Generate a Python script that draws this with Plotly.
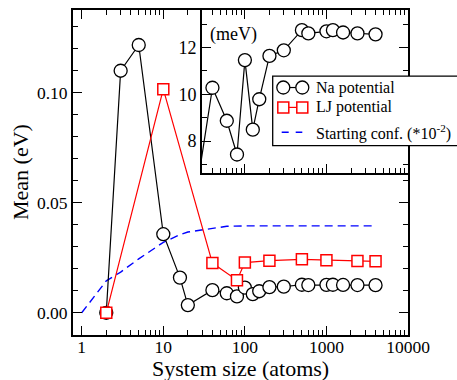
import plotly.graph_objects as go

# ---------------- data ----------------
na_size = [2, 3, 5, 10, 16, 20, 40, 60, 80, 100, 125, 150, 200, 300, 500, 600,
           1000, 1200, 1600, 2400, 4000]
na_mean = [0.0, 0.110, 0.1217, 0.0357, 0.0160, 0.0035, 0.01028, 0.00887, 0.00743,
           0.01146, 0.00849, 0.00979, 0.01164, 0.01188, 0.01274, 0.01260,
           0.01269, 0.01274, 0.01264, 0.01260, 0.01256]

lj_size = [2, 10, 40, 80, 100, 200, 500, 1000, 2400, 4000]
lj_mean = [0.0, 0.1016, 0.0226, 0.0148, 0.0228, 0.0237, 0.0243, 0.0239, 0.0235, 0.0234]

start_size = [1, 2, 3, 5, 10, 16, 20, 40, 60, 100, 200, 500, 1000, 4000]
start_mean = [0.0, 0.0145, 0.0185, 0.0245, 0.0320, 0.0355, 0.0367, 0.0385, 0.0393,
              0.0395, 0.0395, 0.0395, 0.0395, 0.0395]

x_major = [1, 10, 100, 1000, 10000]
x_major_text = ["1", "10", "100", "1000", "10000"]
y_major = [0.0, 0.05, 0.10]
y_major_text = ["0.00", "0.05", "0.10"]
inset_y_major = [8, 10, 12]
inset_y_text = ["8", "10", "12"]

legend_names = ["Na potential", "LJ potential", "Starting conf. (*10<sup>-2</sup>)"]
inset_unit = "(meV)"
x_title = "System size (atoms)"
y_title = "Mean (eV)"

# ---------------- layout geometry ----------------
W, H = 457, 380
L, R, T, B = 73, 408, 8, 335
FONT = "Liberation Serif"


def fx(px):
    return (px - L) / (R - L)


def fy(py):
    return (B - py) / (B - T)


x_minor = [m * 10 ** e for e in range(0, 4) for m in range(2, 10)]

fig = go.Figure()

fig.add_trace(go.Scatter(x=start_size, y=start_mean, mode="lines",
                         line=dict(color="#0000ff", width=1.4, dash="8px,5px"),
                         showlegend=False))
fig.add_trace(go.Scatter(x=na_size, y=na_mean, mode="lines+markers",
                         line=dict(color="black", width=1.2),
                         marker=dict(symbol="circle", size=13, color="white",
                                     line=dict(color="black", width=1.3)),
                         showlegend=False))
fig.add_trace(go.Scatter(x=lj_size, y=lj_mean, mode="lines+markers",
                         line=dict(color="#ff0000", width=1.2),
                         marker=dict(symbol="square", size=11, color="white",
                                     line=dict(color="#ff0000", width=1.5)),
                         showlegend=False))

# inset: Na potential in meV
fig.add_trace(go.Scatter(x=na_size, y=[v * 1000 for v in na_mean], mode="lines+markers",
                         xaxis="x2", yaxis="y2",
                         line=dict(color="black", width=1.2),
                         marker=dict(symbol="circle", size=13, color="white",
                                     line=dict(color="black", width=1.3)),
                         showlegend=False))

axis_common = dict(showline=True, linewidth=2, linecolor="black", mirror="allticks",
                   ticks="inside", tickwidth=1.3, tickcolor="black", ticklen=9,
                   showgrid=False, zeroline=False,
                   tickfont=dict(family=FONT, size=17.5, color="black"))

fig.update_layout(
    width=W, height=H,
    margin=dict(l=L, r=W - R, t=T, b=H - B),
    paper_bgcolor="white", plot_bgcolor="white",
    xaxis=dict(type="log", range=[-0.107, 4.0], tickmode="array",
               tickvals=x_major, ticktext=x_major_text, ticklabelstandoff=-5,
               minor=dict(tickvals=x_minor, ticks="inside", ticklen=5, tickwidth=1.3,
                          tickcolor="black", showgrid=False),
               **axis_common),
    yaxis=dict(range=[-0.0101, 0.1376], tickmode="array",
               tickvals=y_major, ticktext=y_major_text,
               minor=dict(dtick=0.01, tick0=0, ticks="inside", ticklen=5, tickwidth=1.3,
                          tickcolor="black", showgrid=False),
               **axis_common),
    xaxis2=dict(type="log", range=[1.474, 4.0], domain=[fx(202), 1.0], anchor="y2",
                tickmode="array", tickvals=x_major, showticklabels=False,
                minor=dict(tickvals=x_minor, ticks="inside", ticklen=5, tickwidth=1.3,
                           tickcolor="black", showgrid=False),
                **axis_common),
    yaxis2=dict(range=[6.64, 13.6], domain=[fy(172), 1.0], anchor="x2",
                tickmode="array", tickvals=inset_y_major, ticktext=inset_y_text,
                minor=dict(dtick=1, tick0=0, ticks="inside", ticklen=5, tickwidth=1.3,
                           tickcolor="black", showgrid=False),
                **{**axis_common, "tickfont": dict(family=FONT, size=18, color="black")}),
)

# axis titles
fig.add_annotation(text=x_title, xref="paper", yref="paper", x=fx(240.5), y=fy(369),
                   xanchor="center", yanchor="middle", showarrow=False,
                   font=dict(family=FONT, size=22, color="black"))
fig.add_annotation(text=y_title, xref="paper", yref="paper", x=fx(20), y=fy(171),
                   xanchor="center", yanchor="middle", showarrow=False, textangle=-90,
                   font=dict(family=FONT, size=22, color="black"))
fig.add_annotation(text=inset_unit, xref="paper", yref="paper", x=fx(208), y=fy(33),
                   xanchor="left", yanchor="middle", showarrow=False,
                   font=dict(family=FONT, size=18, color="black"))

# custom legend
fig.add_shape(type="rect", xref="paper", yref="paper", x0=fx(272.7), x1=fx(470),
              y0=fy(144.5), y1=fy(74.5), line=dict(color="black", width=1.3),
              fillcolor="white", layer="above")
rows = [86, 106, 131]
sx0, sx1 = 283.3, 302.3
fig.add_shape(type="line", xref="paper", yref="paper", x0=fx(sx0), x1=fx(sx1),
              y0=fy(rows[0]), y1=fy(rows[0]), line=dict(color="black", width=1.2),
              layer="above")
fig.add_shape(type="line", xref="paper", yref="paper", x0=fx(sx0), x1=fx(sx1),
              y0=fy(rows[1]), y1=fy(rows[1]), line=dict(color="#ff0000", width=1.2),
              layer="above")
for cx in (sx0, sx1):
    fig.add_shape(type="circle", xref="paper", yref="paper", xsizemode="pixel",
                  ysizemode="pixel", xanchor=fx(cx), yanchor=fy(rows[0]),
                  x0=-6.5, x1=6.5, y0=-6.5, y1=6.5, fillcolor="white",
                  line=dict(color="black", width=1.3), layer="above")
    fig.add_shape(type="rect", xref="paper", yref="paper", xsizemode="pixel",
                  ysizemode="pixel", xanchor=fx(cx), yanchor=fy(rows[1]),
                  x0=-5.5, x1=5.5, y0=-5.5, y1=5.5, fillcolor="white",
                  line=dict(color="#ff0000", width=1.5), layer="above")
fig.add_shape(type="line", xref="paper", yref="paper", x0=fx(281.7), x1=fx(302.3),
              y0=fy(rows[2]), y1=fy(rows[2]),
              line=dict(color="#0000ff", width=1.4, dash="7px,7px"), layer="above")
for name, ry in zip(legend_names, rows):
    fig.add_annotation(text=name, xref="paper", yref="paper", x=fx(314), y=fy(ry),
                       xanchor="left", yanchor="middle", showarrow=False,
                       font=dict(family=FONT, size=16, color="black"))

fig.write_html("out.html")
